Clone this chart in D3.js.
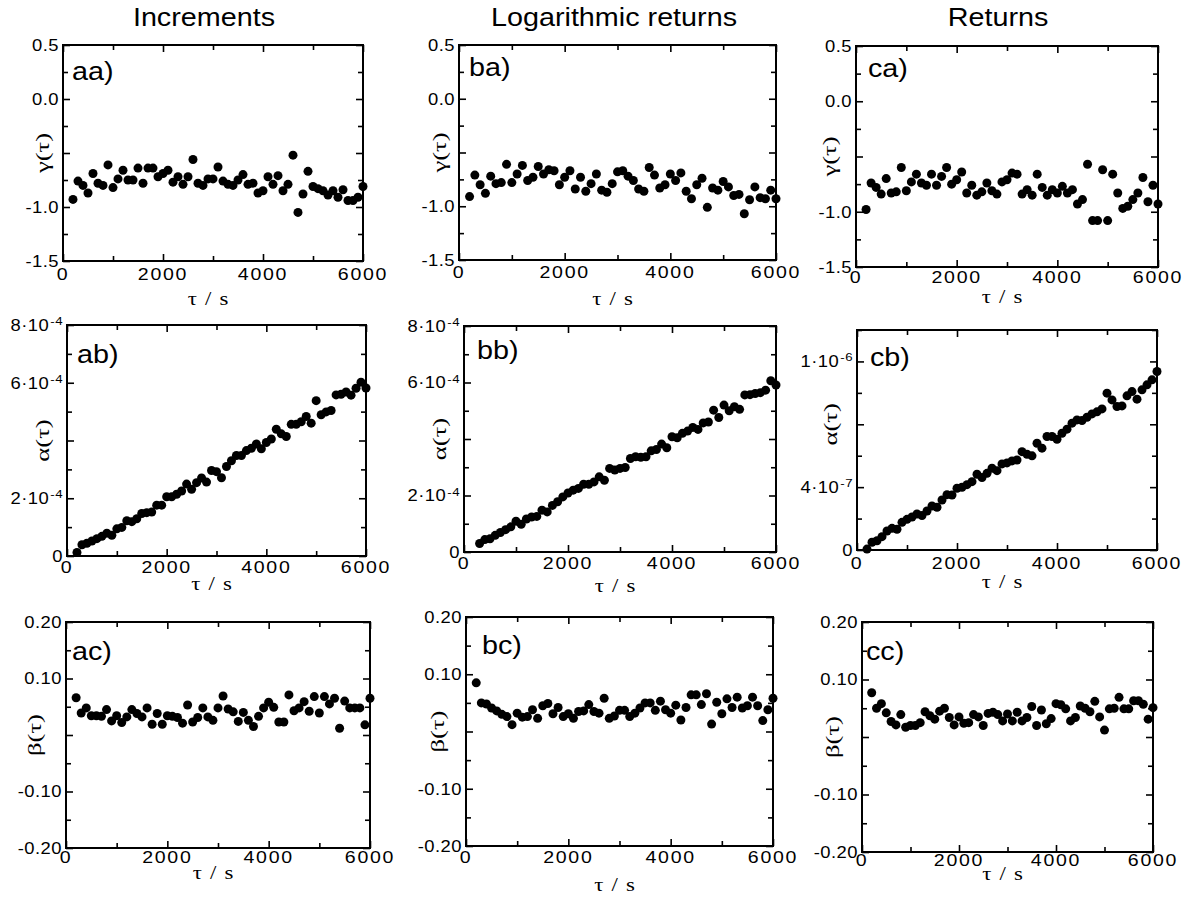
<!DOCTYPE html>
<html>
<head>
<meta charset="utf-8">
<script src="https://cdn.jsdelivr.net/npm/d3@7"></script>
<style>
  body { margin: 0; background: #fff; }
  svg { display: block; }
</style>
</head>
<body>
<svg id="chart" width="1191" height="901"></svg>
<script>
// ---- data ----
const tau = d3.range(200, 6001, 100);      // 59 lags, 200 .. 6000 s
const tau300 = d3.range(300, 6001, 100);   // panel bb starts at 300 s

const colTitles = ["Increments", "Logarithmic returns", "Returns"];

const gammaInc = [-0.93,-0.76,-0.80,-0.87,-0.69,-0.78,-0.80,-0.61,-0.82,-0.74,
  -0.66,-0.75,-0.75,-0.64,-0.78,-0.64,-0.64,-0.72,-0.69,-0.66,
  -0.77,-0.72,-0.79,-0.72,-0.56,-0.78,-0.80,-0.74,-0.74,-0.63,
  -0.76,-0.79,-0.80,-0.75,-0.70,-0.79,-0.78,-0.87,-0.85,-0.72,
  -0.79,-0.71,-0.85,-0.79,-0.52,-1.05,-0.88,-0.67,-0.81,-0.83,
  -0.85,-0.89,-0.85,-0.91,-0.84,-0.94,-0.94,-0.91,-0.81];
const gammaLog = [-0.91,-0.71,-0.80,-0.88,-0.72,-0.79,-0.78,-0.61,-0.78,-0.70,
  -0.62,-0.76,-0.73,-0.63,-0.70,-0.66,-0.67,-0.80,-0.73,-0.67,
  -0.84,-0.73,-0.86,-0.79,-0.70,-0.85,-0.87,-0.79,-0.68,-0.67,
  -0.72,-0.76,-0.84,-0.86,-0.64,-0.71,-0.83,-0.80,-0.70,-0.76,
  -0.69,-0.86,-0.93,-0.80,-0.74,-1.01,-0.83,-0.85,-0.77,-0.82,
  -0.90,-0.89,-1.07,-0.94,-0.82,-0.92,-0.93,-0.85,-0.93];
const gammaRet = [-0.98,-0.74,-0.78,-0.84,-0.70,-0.83,-0.82,-0.60,-0.81,-0.73,
  -0.66,-0.74,-0.76,-0.66,-0.76,-0.68,-0.60,-0.75,-0.71,-0.64,
  -0.83,-0.76,-0.85,-0.82,-0.74,-0.81,-0.84,-0.73,-0.71,-0.65,
  -0.66,-0.84,-0.80,-0.85,-0.66,-0.78,-0.85,-0.80,-0.83,-0.77,
  -0.83,-0.80,-0.93,-0.89,-0.57,-1.08,-1.08,-0.62,-1.08,-0.66,
  -0.83,-0.97,-0.95,-0.89,-0.83,-0.69,-0.91,-0.76,-0.93];

// alpha in units of 1e-4 (ab, bb) and 1e-7 (cb)
const alphaInc = [0.12,0.39,0.44,0.52,0.60,0.68,0.79,0.72,0.94,0.99,
  1.22,1.19,1.29,1.47,1.50,1.52,1.76,1.76,2.05,2.05,
  2.14,2.25,2.49,2.31,2.54,2.70,2.56,2.96,2.92,2.71,
  3.10,3.30,3.48,3.48,3.65,3.73,3.88,3.71,3.93,4.05,
  4.39,4.23,4.14,4.56,4.56,4.65,4.83,4.60,5.38,4.89,
  4.99,5.04,5.58,5.60,5.68,5.57,5.81,6.02,5.82];
const alphaLog = [0.30,0.44,0.47,0.59,0.69,0.79,0.89,1.09,0.98,1.17,
  1.24,1.26,1.48,1.42,1.65,1.78,1.95,2.09,2.19,2.25,
  2.40,2.40,2.48,2.66,2.54,2.96,2.90,2.96,2.99,3.31,
  3.37,3.35,3.37,3.58,3.63,3.82,3.69,4.08,4.04,4.20,
  4.28,4.41,4.34,4.57,4.60,5.02,4.76,5.20,5.00,5.14,
  5.05,5.56,5.57,5.61,5.64,5.73,6.06,5.91];
const alphaRet = [0.06,0.49,0.59,0.85,1.21,1.38,1.32,1.76,1.95,2.10,
  2.29,2.19,2.48,2.80,2.72,3.18,3.52,3.50,3.93,3.99,
  4.16,4.35,4.82,4.61,4.88,5.20,5.05,5.48,5.54,5.67,
  5.73,6.26,6.09,5.99,6.79,6.48,7.22,7.22,7.05,7.43,
  7.69,8.07,8.28,8.24,8.45,8.66,8.79,8.98,9.98,9.55,
  9.13,9.17,9.81,10.08,9.60,10.19,10.51,10.83,11.36];

const betaInc = [0.066,0.039,0.048,0.034,0.034,0.033,0.045,0.025,0.034,0.022,
  0.032,0.045,0.038,0.032,0.048,0.019,0.038,0.019,0.034,0.033,
  0.031,0.021,0.053,0.023,0.031,0.048,0.032,0.026,0.048,0.069,
  0.046,0.041,0.024,0.040,0.026,0.015,0.033,0.048,0.058,0.049,
  0.023,0.023,0.071,0.043,0.048,0.059,0.042,0.068,0.039,0.068,
  0.055,0.065,0.012,0.060,0.048,0.048,0.048,0.018,0.065];
const betaLog = [0.085,0.050,0.048,0.041,0.036,0.030,0.026,0.012,0.032,0.025,
  0.026,0.038,0.023,0.045,0.049,0.031,0.042,0.026,0.031,0.023,
  0.035,0.036,0.047,0.035,0.032,0.058,0.023,0.027,0.037,0.037,
  0.026,0.032,0.041,0.050,0.050,0.037,0.053,0.038,0.032,0.046,
  0.020,0.042,0.064,0.064,0.047,0.066,0.013,0.051,0.031,0.057,
  0.042,0.060,0.041,0.045,0.060,0.045,0.019,0.038,0.058];
const betaRet = [0.077,0.050,0.058,0.042,0.027,0.021,0.039,0.017,0.020,0.020,
  0.025,0.044,0.037,0.031,0.045,0.050,0.034,0.021,0.035,0.024,
  0.025,0.039,0.035,0.020,0.041,0.043,0.039,0.028,0.040,0.028,
  0.043,0.028,0.034,0.053,0.020,0.047,0.023,0.032,0.058,0.056,
  0.049,0.028,0.034,0.054,0.050,0.044,0.062,0.035,0.012,0.049,
  0.050,0.069,0.049,0.049,0.063,0.063,0.057,0.031,0.051];

// ---- axes: ticks and labels ----
const xMajor = [0, 2000, 4000, 6000];
const xMinor = [1000, 3000, 5000];

const gammaMajor = [-1.5, -1, -0.5, 0, 0.5];
const gammaMinor = [-1.25, -0.75, -0.25, 0.25];
const gammaLabels = [{v: 0.5, t: "0.5"}, {v: 0, t: "0.0"}, {v: -1, t: "-1.0"}, {v: -1.5, t: "-1.5"}];

const alpha4Major = [0, 2, 4, 6, 8];
const alpha4Minor = [1, 3, 5, 7];
const alpha4Labels = [{v: 0, t: "0"}, {v: 2, t: "2·10", e: "-4"}, {v: 6, t: "6·10", e: "-4"}, {v: 8, t: "8·10", e: "-4"}];

const alpha7Major = [0, 4, 8, 12];
const alpha7Minor = [2, 6, 10, 14];
const alpha7Labels = [{v: 0, t: "0"}, {v: 4, t: "4·10", e: "-7"}, {v: 12, t: "1·10", e: "-6"}];

const betaMajor = [-0.2, -0.1, 0, 0.1, 0.2];
const betaMinor = [-0.15, -0.05, 0.05, 0.15];
const betaLabels = [{v: 0.2, t: "0.20"}, {v: 0.1, t: "0.10"}, {v: -0.1, t: "-0.10"}, {v: -0.2, t: "-0.20"}];

const yAxes = {
  gamma: {domain: [-1.5, 0.5], major: gammaMajor, minor: gammaMinor, labels: gammaLabels, title: "γ(τ)", mid: -0.5},
  alpha4: {domain: [0, 8], major: alpha4Major, minor: alpha4Minor, labels: alpha4Labels, title: "α(τ)", mid: 4},
  alpha7: {domain: [0, 14], major: alpha7Major, minor: alpha7Minor, labels: alpha7Labels, title: "α(τ)", mid: 8},
  beta: {domain: [-0.2, 0.2], major: betaMajor, minor: betaMinor, labels: betaLabels, title: "β(τ)", mid: 0}
};

// frame boxes [left, top, right, bottom] and small per-panel offsets (scanned figure is not perfectly regular)
// lab: tag offset, yt: y-title offset, tl: tick-label baseline, xt: x-title baseline
const panels = [
  {tag: "aa)", xs: tau, ys: gammaInc, axis: "gamma", box: [63, 45, 363, 261], lab: [9, 35], yt: 20, tl: 19, xt: 44},
  {tag: "ba)", xs: tau, ys: gammaLog, axis: "gamma", box: [459, 45, 776, 260], lab: [10, 31], yt: 19, tl: 18, xt: 45},
  {tag: "ca)", xs: tau, ys: gammaRet, axis: "gamma", box: [856, 46, 1158, 267], lab: [12, 31], yt: 26, tl: 16, xt: 36},
  {tag: "ab)", xs: tau, ys: alphaInc, axis: "alpha4", box: [67, 325, 366, 556], lab: [10, 38], yt: 24, tl: 17, xt: 34},
  {tag: "bb)", xs: tau300, ys: alphaLog, axis: "alpha4", box: [464, 326, 776, 552], lab: [13, 33], yt: 24, tl: 17, xt: 40},
  {tag: "cb)", xs: tau, ys: alphaRet, axis: "alpha7", box: [857, 330, 1157, 550], lab: [13, 36], yt: 26, tl: 19, xt: 38},
  {tag: "ac)", xs: tau, ys: betaInc, axis: "beta", box: [66, 622, 370, 848], lab: [6, 38], yt: 31, tl: 15, xt: 31},
  {tag: "bc)", xs: tau, ys: betaLog, axis: "beta", box: [466, 617, 773, 846], lab: [16, 37], yt: 28, tl: 17, xt: 45},
  {tag: "cc)", xs: tau, ys: betaRet, axis: "beta", box: [862, 622, 1153, 852], lab: [4, 38], yt: 29, tl: 14, xt: 28}
];

const titleX = [204, 614, 998];

// ---- drawing ----
const svg = d3.select("#chart");
const SX = 1.15; // the scanned figure is a little wider than tall
const sans = "'Liberation Sans', Arial, Helvetica, sans-serif";
const serif = "'Liberation Serif', 'Times New Roman', serif";

function label(g, x, y, txt, opts) {
  const sx = opts.sx || SX;
  const t = g.append("text")
    .attr("transform", opts.rotate
      ? `translate(${x},${y}) rotate(-90) scale(${sx},1)`
      : `translate(${x},${y}) scale(${sx},1)`)
    .attr("text-anchor", opts.anchor || "start")
    .attr("font-family", opts.family || sans)
    .attr("font-size", opts.size)
    .attr("fill", "#000");
  if (opts.dy) t.attr("dy", opts.dy);
  if (opts.ls) t.attr("letter-spacing", opts.ls);
  if (opts.ws) t.attr("word-spacing", opts.ws);
  t.append("tspan").text(txt);
  if (opts.sup) {
    t.append("tspan").attr("font-size", opts.size * 0.72).attr("dx", 1).attr("dy", "-0.5em").text(opts.sup);
  }
  return t;
}

colTitles.forEach((t, i) => label(svg, titleX[i], 26, t, {anchor: "middle", size: 25}));

panels.forEach((p) => {
  const [l, t, r, b] = p.box;
  const spec = yAxes[p.axis];
  const x = d3.scaleLinear().domain([0, 6000]).range([l, r]);
  const y = d3.scaleLinear().domain(spec.domain).range([b, t]);
  const g = svg.append("g");

  // inward ticks on all four sides
  const tickSets = [
    [d3.axisBottom(x), `translate(0,${b})`, xMajor, xMinor],
    [d3.axisTop(x), `translate(0,${t})`, xMajor, xMinor],
    [d3.axisLeft(y), `translate(${l},0)`, spec.major, spec.minor],
    [d3.axisRight(y), `translate(${r},0)`, spec.major, spec.minor]
  ];
  tickSets.forEach(([ax, tr, major, minor]) => {
    [[major, 7], [minor, 5]].forEach(([vals, len]) => {
      const a = g.append("g").attr("transform", tr)
        .call(ax.tickValues(vals).tickSize(-len).tickFormat(""));
      a.select(".domain").remove();
      a.selectAll("line").attr("stroke", "#000").attr("stroke-width", 1.6);
    });
  });

  g.append("rect")
    .attr("x", l).attr("y", t)
    .attr("width", r - l).attr("height", b - t)
    .attr("fill", "none").attr("stroke", "#000").attr("stroke-width", 2);

  // tick labels
  xMajor.forEach((v) => label(g, x(v), b + p.tl, String(v), {anchor: "middle", size: 17, ls: 1.5}));
  spec.labels.forEach((d) => label(g, l - 4, y(d.v), d.t, {anchor: "end", size: 16, dy: "0.36em", ls: 0.4, sup: d.e}));

  // axis titles
  label(g, l - p.yt, y(spec.mid), spec.title, {anchor: "middle", size: 19, sx: 1.4, family: serif, rotate: true, dy: "0.33em"});
  label(g, (l + r) / 2 - 5, b + p.xt, "τ / s", {anchor: "middle", size: 19, sx: 1.2, ws: 2, family: serif});

  // panel tag
  label(g, l + p.lab[0], t + p.lab[1], p.tag, {size: 25});

  // points
  g.append("g").selectAll("circle")
    .data(p.xs.map((v, i) => [v, p.ys[i]]))
    .join("circle")
    .attr("cx", (d) => x(d[0]))
    .attr("cy", (d) => y(d[1]))
    .attr("r", 4.5)
    .attr("fill", "#000");
});
</script>
</body>
</html>
